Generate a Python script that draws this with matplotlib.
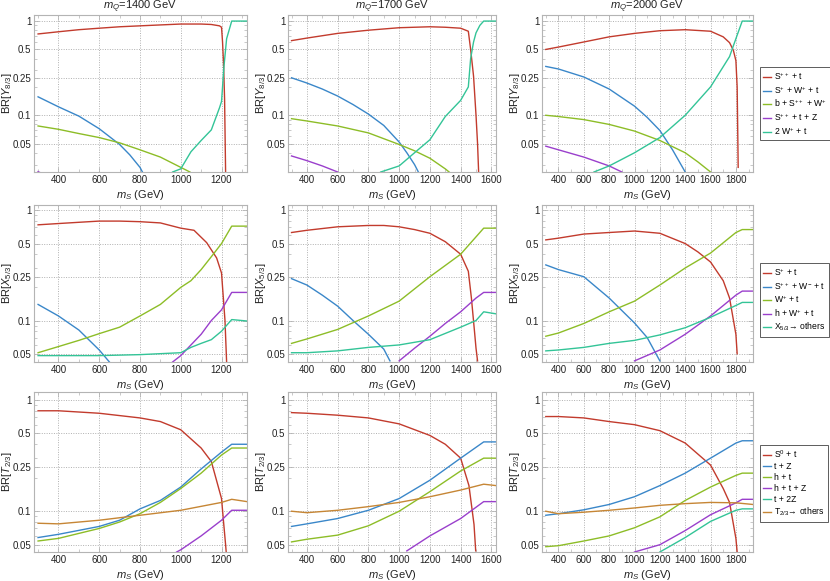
import matplotlib
matplotlib.use("Agg")
import matplotlib.pyplot as plt
from matplotlib.ticker import FixedLocator, NullFormatter, LogLocator, MultipleLocator
from matplotlib.lines import Line2D

plt.rcParams['font.family'] = ['Liberation Sans', 'DejaVu Sans']
plt.rcParams['mathtext.fontset'] = 'custom'
plt.rcParams['mathtext.rm'] = 'Liberation Sans'
plt.rcParams['mathtext.it'] = 'Liberation Sans:italic'
plt.rcParams['mathtext.bf'] = 'Liberation Sans:bold'

# colours used for the decay channels (legend order)
RED, BLUE, GREEN, PURPLE, TEAL, ORANGE = ('#c23b2d', '#3a87c9', '#8dbd27',
                                         '#9a3fcc', '#33c497', '#c68635')

mq_values = [1400, 1700, 2000]
xlims = [(280, 1325), (277, 1630), (270, 1935)]
xticks = [[400, 600, 800, 1000, 1200],
          [400, 600, 800, 1000, 1200, 1400, 1600],
          [400, 600, 800, 1000, 1200, 1400, 1600, 1800]]
yticks = [0.05, 0.1, 0.25, 0.5, 1]
ytick_labels = ['0.05', '0.1', '0.25', '0.5', '1']

# ---- Y_{8/3}, mQ = 1400
y1400_red_x = [300, 400, 500, 600, 700, 800, 900, 1000, 1100, 1150, 1190, 1200, 1205, 1210, 1215, 1220]
y1400_red = [0.73, 0.77, 0.81, 0.84, 0.87, 0.89, 0.91, 0.93, 0.93, 0.92, 0.89, 0.86, 0.6, 0.35, 0.15, 0.025]
y1400_blue_x = [300, 400, 500, 600, 700, 750, 800, 812]
y1400_blue = [0.157, 0.123, 0.098, 0.072, 0.049, 0.038, 0.028, 0.025]
y1400_green_x = [300, 400, 500, 600, 700, 800, 900, 1000, 1045]
y1400_green = [0.077, 0.071, 0.064, 0.058, 0.051, 0.043, 0.036, 0.028, 0.025]
y1400_purple_x = [300, 400]
y1400_purple = [0.0252, 0.02]
y1400_teal_x = [960, 1000, 1050, 1100, 1150, 1190, 1200, 1212, 1225, 1250, 1325]
y1400_teal = [0.025, 0.027, 0.041, 0.054, 0.07, 0.12, 0.14, 0.33, 0.65, 1.0, 1.0]

# ---- Y_{8/3}, mQ = 1700
y1700_red_x = [300, 400, 600, 800, 1000, 1200, 1300, 1400, 1450, 1465, 1484, 1500, 1510, 1517]
y1700_red = [0.62, 0.66, 0.74, 0.80, 0.85, 0.87, 0.86, 0.84, 0.78, 0.5, 0.26, 0.1, 0.05, 0.025]
y1700_blue_x = [300, 400, 500, 600, 700, 800, 900, 1000, 1050, 1100, 1125]
y1700_blue = [0.25, 0.22, 0.19, 0.16, 0.13, 0.103, 0.078, 0.052, 0.04, 0.03, 0.025]
y1700_green_x = [300, 400, 600, 800, 1000, 1100, 1200, 1300, 1325]
y1700_green = [0.092, 0.087, 0.077, 0.065, 0.049, 0.042, 0.035, 0.027, 0.025]
y1700_purple_x = [300, 400, 500, 600]
y1700_purple = [0.037, 0.033, 0.029, 0.025]
y1700_teal_x = [880, 1000, 1100, 1200, 1300, 1400, 1450, 1465, 1484, 1500, 1525, 1550, 1630]
y1700_teal = [0.025, 0.029, 0.04, 0.055, 0.097, 0.144, 0.2, 0.4, 0.6, 0.75, 0.9, 1.0, 1.0]

# ---- Y_{8/3}, mQ = 2000
y2000_red_x = [300, 400, 600, 800, 1000, 1200, 1400, 1600, 1700, 1750, 1780, 1800, 1810, 1815, 1818]
y2000_red = [0.5, 0.53, 0.6, 0.68, 0.74, 0.79, 0.81, 0.78, 0.68, 0.59, 0.49, 0.38, 0.2, 0.06, 0.028]
y2000_blue_x = [300, 400, 600, 800, 1000, 1100, 1200, 1300, 1400]
y2000_blue = [0.33, 0.31, 0.255, 0.19, 0.125, 0.095, 0.069, 0.043, 0.025]
y2000_green_x = [300, 400, 600, 800, 1000, 1200, 1400, 1500, 1600]
y2000_green = [0.1, 0.097, 0.09, 0.08, 0.068, 0.054, 0.04, 0.032, 0.025]
y2000_purple_x = [300, 400, 600, 800, 900]
y2000_purple = [0.047, 0.043, 0.036, 0.029, 0.025]
y2000_teal_x = [680, 800, 1000, 1200, 1400, 1600, 1750, 1800, 1850, 1935]
y2000_teal = [0.025, 0.029, 0.04, 0.058, 0.1, 0.2, 0.42, 0.65, 1.0, 1.0]

# ---- X_{5/3}, mQ = 1400
x1400_red_x = [300, 400, 500, 600, 700, 800, 900, 1000, 1065, 1127, 1176, 1200, 1217, 1225]
x1400_red = [0.74, 0.76, 0.78, 0.8, 0.8, 0.79, 0.77, 0.69, 0.66, 0.51, 0.37, 0.27, 0.1, 0.042]
x1400_blue_x = [300, 400, 500, 600, 650]
x1400_blue = [0.14, 0.11, 0.082, 0.054, 0.042]
x1400_green_x = [300, 400, 500, 600, 700, 800, 900, 1000, 1050, 1100, 1150, 1200, 1250, 1325]
x1400_green = [0.051, 0.058, 0.066, 0.076, 0.087, 0.11, 0.14, 0.2, 0.23, 0.29, 0.38, 0.5, 0.72, 0.72]
x1400_purple_x = [960, 1000, 1050, 1100, 1150, 1200, 1250, 1325]
x1400_purple = [0.042, 0.048, 0.06, 0.075, 0.1, 0.125, 0.18, 0.18]
x1400_teal_x = [300, 400, 600, 800, 1000, 1050, 1100, 1150, 1200, 1250, 1325]
x1400_teal = [0.048, 0.048, 0.048, 0.049, 0.051, 0.057, 0.062, 0.067, 0.08, 0.102, 0.099]

# ---- X_{5/3}, mQ = 1700
x1700_red_x = [300, 400, 600, 800, 900, 1000, 1100, 1200, 1300, 1400, 1450, 1470, 1490, 1500, 1510]
x1700_red = [0.63, 0.66, 0.71, 0.73, 0.73, 0.71, 0.67, 0.62, 0.52, 0.4, 0.28, 0.16, 0.08, 0.056, 0.043]
x1700_blue_x = [300, 400, 500, 600, 700, 800, 900, 940]
x1700_blue = [0.24, 0.21, 0.17, 0.135, 0.1, 0.075, 0.055, 0.043]
x1700_green_x = [300, 400, 600, 800, 1000, 1200, 1400, 1550, 1630]
x1700_green = [0.062, 0.068, 0.083, 0.11, 0.15, 0.25, 0.4, 0.69, 0.69]
x1700_purple_x = [1000, 1100, 1200, 1300, 1400, 1500, 1550, 1630]
x1700_purple = [0.043, 0.056, 0.072, 0.094, 0.12, 0.16, 0.18, 0.18]
x1700_teal_x = [300, 400, 600, 800, 1000, 1200, 1400, 1500, 1550, 1630]
x1700_teal = [0.051, 0.051, 0.053, 0.057, 0.06, 0.067, 0.087, 0.1, 0.12, 0.115]

# ---- X_{5/3}, mQ = 2000
x2000_red_x = [300, 400, 600, 800, 1000, 1200, 1400, 1500, 1600, 1700, 1750, 1800, 1810]
x2000_red = [0.54, 0.56, 0.61, 0.63, 0.65, 0.62, 0.5, 0.42, 0.34, 0.23, 0.16, 0.075, 0.05]
x2000_blue_x = [300, 400, 600, 800, 1000, 1100, 1200]
x2000_blue = [0.32, 0.29, 0.25, 0.16, 0.095, 0.07, 0.043]
x2000_green_x = [300, 400, 600, 800, 1000, 1200, 1400, 1600, 1800, 1850, 1935]
x2000_green = [0.072, 0.077, 0.094, 0.12, 0.15, 0.21, 0.3, 0.41, 0.63, 0.67, 0.67]
x2000_purple_x = [1000, 1200, 1400, 1600, 1800, 1850, 1935]
x2000_purple = [0.043, 0.054, 0.075, 0.11, 0.17, 0.185, 0.185]
x2000_teal_x = [300, 400, 600, 800, 1000, 1200, 1400, 1600, 1800, 1850, 1935]
x2000_teal = [0.053, 0.054, 0.057, 0.062, 0.066, 0.074, 0.086, 0.107, 0.137, 0.146, 0.146]

# ---- T_{2/3}, mQ = 1400
t1400_red_x = [300, 400, 600, 800, 900, 1000, 1100, 1150, 1200, 1210, 1220, 1223]
t1400_red = [0.8, 0.8, 0.76, 0.69, 0.64, 0.54, 0.37, 0.28, 0.13, 0.08, 0.05, 0.043]
t1400_blue_x = [300, 400, 600, 700, 800, 900, 1000, 1100, 1200, 1250, 1325]
t1400_blue = [0.058, 0.062, 0.073, 0.083, 0.105, 0.125, 0.165, 0.24, 0.34, 0.4, 0.4]
t1400_green_x = [300, 400, 600, 700, 800, 900, 1000, 1100, 1200, 1250, 1325]
t1400_green = [0.054, 0.057, 0.07, 0.08, 0.095, 0.12, 0.16, 0.22, 0.32, 0.37, 0.37]
t1400_purple_x = [980, 1000, 1100, 1200, 1250, 1325]
t1400_purple = [0.043, 0.045, 0.06, 0.083, 0.102, 0.102]
t1400_orange_x = [300, 400, 600, 800, 1000, 1200, 1250, 1325]
t1400_orange = [0.078, 0.077, 0.083, 0.092, 0.102, 0.12, 0.128, 0.122]

# ---- T_{2/3}, mQ = 1700
t1700_red_x = [300, 400, 600, 800, 1000, 1200, 1300, 1400, 1454, 1487, 1498]
t1700_red = [0.77, 0.76, 0.73, 0.69, 0.61, 0.48, 0.4, 0.3, 0.17, 0.076, 0.044]
t1700_blue_x = [300, 400, 600, 800, 1000, 1200, 1400, 1550, 1630]
t1700_blue = [0.073, 0.077, 0.086, 0.102, 0.13, 0.19, 0.3, 0.42, 0.42]
t1700_green_x = [300, 400, 600, 800, 1000, 1200, 1400, 1550, 1630]
t1700_green = [0.053, 0.056, 0.061, 0.074, 0.1, 0.15, 0.23, 0.3, 0.3]
t1700_purple_x = [1050, 1200, 1400, 1550, 1630]
t1700_purple = [0.044, 0.06, 0.086, 0.122, 0.122]
t1700_orange_x = [300, 400, 600, 800, 1000, 1200, 1400, 1550, 1630]
t1700_orange = [0.1, 0.097, 0.102, 0.11, 0.12, 0.135, 0.155, 0.175, 0.17]

# ---- T_{2/3}, mQ = 2000
t2000_red_x = [300, 400, 600, 800, 1000, 1200, 1400, 1600, 1700, 1750, 1800, 1810]
t2000_red = [0.71, 0.71, 0.69, 0.64, 0.6, 0.53, 0.41, 0.26, 0.16, 0.12, 0.057, 0.043]
t2000_blue_x = [300, 400, 600, 800, 1000, 1200, 1400, 1600, 1800, 1850, 1935]
t2000_blue = [0.092, 0.095, 0.103, 0.115, 0.135, 0.17, 0.22, 0.3, 0.41, 0.43, 0.43]
t2000_green_x = [300, 400, 600, 800, 1000, 1200, 1400, 1600, 1800, 1850, 1935]
t2000_green = [0.048, 0.049, 0.054, 0.06, 0.071, 0.089, 0.125, 0.165, 0.21, 0.22, 0.22]
t2000_purple_x = [1000, 1200, 1400, 1600, 1800, 1850, 1935]
t2000_purple = [0.043, 0.05, 0.067, 0.093, 0.119, 0.128, 0.128]
t2000_teal_x = [1200, 1400, 1600, 1800, 1850, 1935]
t2000_teal = [0.043, 0.058, 0.081, 0.102, 0.105, 0.105]
t2000_orange_x = [300, 400, 600, 800, 1000, 1200, 1400, 1600, 1800, 1935]
t2000_orange = [0.1, 0.095, 0.098, 0.102, 0.107, 0.113, 0.117, 0.12, 0.119, 0.115]

rows = [
    {'ylabel': r'BR[$Y_{8/3}$]', 'ylim': (0.025, 1.16),
     'labels': [r'S$^{++}$ + t', r'S$^{+}$ + W$^{+}$ + t', r'b + S$^{++}$ + W$^{+}$',
                r'S$^{++}$ + t + Z', r'2 W$^{+}$ + t'],
     'colors': [RED, BLUE, GREEN, PURPLE, TEAL],
     'panels': [
         [(y1400_red_x, y1400_red, RED), (y1400_blue_x, y1400_blue, BLUE),
          (y1400_green_x, y1400_green, GREEN), (y1400_purple_x, y1400_purple, PURPLE),
          (y1400_teal_x, y1400_teal, TEAL)],
         [(y1700_red_x, y1700_red, RED), (y1700_blue_x, y1700_blue, BLUE),
          (y1700_green_x, y1700_green, GREEN), (y1700_purple_x, y1700_purple, PURPLE),
          (y1700_teal_x, y1700_teal, TEAL)],
         [(y2000_red_x, y2000_red, RED), (y2000_blue_x, y2000_blue, BLUE),
          (y2000_green_x, y2000_green, GREEN), (y2000_purple_x, y2000_purple, PURPLE),
          (y2000_teal_x, y2000_teal, TEAL)]]},
    {'ylabel': r'BR[$X_{5/3}$]', 'ylim': (0.042, 1.12),
     'labels': [r'S$^{+}$ + t', r'S$^{++}$ + W$^{-}$ + t', r'W$^{+}$ + t',
                r'h + W$^{+}$ + t', r'X$_{5/3}$→ others'],
     'colors': [RED, BLUE, GREEN, PURPLE, TEAL],
     'panels': [
         [(x1400_red_x, x1400_red, RED), (x1400_blue_x, x1400_blue, BLUE),
          (x1400_green_x, x1400_green, GREEN), (x1400_purple_x, x1400_purple, PURPLE),
          (x1400_teal_x, x1400_teal, TEAL)],
         [(x1700_red_x, x1700_red, RED), (x1700_blue_x, x1700_blue, BLUE),
          (x1700_green_x, x1700_green, GREEN), (x1700_purple_x, x1700_purple, PURPLE),
          (x1700_teal_x, x1700_teal, TEAL)],
         [(x2000_red_x, x2000_red, RED), (x2000_blue_x, x2000_blue, BLUE),
          (x2000_green_x, x2000_green, GREEN), (x2000_purple_x, x2000_purple, PURPLE),
          (x2000_teal_x, x2000_teal, TEAL)]]},
    {'ylabel': r'BR[$T_{2/3}$]', 'ylim': (0.043, 1.18),
     'labels': [r'S$^{0}$ + t', 't + Z', 'h + t', 'h + t + Z', 't + 2Z',
                r'T$_{2/3}$→ others'],
     'colors': [RED, BLUE, GREEN, PURPLE, TEAL, ORANGE],
     'panels': [
         [(t1400_red_x, t1400_red, RED), (t1400_blue_x, t1400_blue, BLUE),
          (t1400_green_x, t1400_green, GREEN), (t1400_purple_x, t1400_purple, PURPLE),
          (t1400_orange_x, t1400_orange, ORANGE)],
         [(t1700_red_x, t1700_red, RED), (t1700_blue_x, t1700_blue, BLUE),
          (t1700_green_x, t1700_green, GREEN), (t1700_purple_x, t1700_purple, PURPLE),
          (t1700_orange_x, t1700_orange, ORANGE)],
         [(t2000_red_x, t2000_red, RED), (t2000_blue_x, t2000_blue, BLUE),
          (t2000_green_x, t2000_green, GREEN), (t2000_purple_x, t2000_purple, PURPLE),
          (t2000_teal_x, t2000_teal, TEAL), (t2000_orange_x, t2000_orange, ORANGE)]]},
]

W, H = 830, 581
col_px = [(34, 247), (288, 496), (542, 753)]
row_px = [(15, 172), (205, 362), (392, 552)]
legend_top = [67, 263, 445]

FRAME = '#b4b4b4'
TEXT = '#222222'

fig = plt.figure(figsize=(W / 100, H / 100), dpi=100)

for r, row in enumerate(rows):
    top, bot = row_px[r]
    for c in range(3):
        left, right = col_px[c]
        ax = fig.add_axes([left / W, 1 - bot / H, (right - left) / W, (bot - top) / H])
        for xs, ys, col in row['panels'][c]:
            ax.plot(xs, ys, color=col, lw=1.0, solid_joinstyle='round')
        ax.set_yscale('log')
        ax.set_xlim(*xlims[c])
        ax.set_ylim(*row['ylim'])
        ax.yaxis.set_major_locator(FixedLocator(yticks))
        ax.set_yticklabels(ytick_labels)
        ax.yaxis.set_minor_locator(LogLocator(base=10, subs=[2, 3, 4, 5, 6, 7, 8, 9]))
        ax.yaxis.set_minor_formatter(NullFormatter())
        ax.set_xticks(xticks[c])
        ax.xaxis.set_minor_locator(MultipleLocator(100))
        ax.grid(True, which='major', color='#b0b0b0', ls=(0, (1, 1.5)), lw=0.7)
        ax.tick_params(which='both', direction='in', top=True, right=True,
                       colors=FRAME, labelcolor=TEXT, labelsize=7, pad=2)
        ax.tick_params(which='major', length=3.5, width=0.6)
        ax.tick_params(which='minor', length=2, width=0.5)
        for sp in ax.spines.values():
            sp.set_color(FRAME)
            sp.set_linewidth(0.8)
        ax.set_xlabel(r'$m_S$ (GeV)', fontsize=8, color=TEXT, labelpad=2)
        ax.set_ylabel(row['ylabel'], fontsize=8, color=TEXT)
        # right edge of the rotated label sits ~20 px left of the frame
        ax.yaxis.set_label_coords(-20 / (right - left), 0.5)
        if r == 0:
            ax.set_title(r'$m_Q$=%d GeV' % mq_values[c], fontsize=8, color=TEXT, pad=2)

    handles = [Line2D([], [], color=col, lw=1.0) for col in row['colors']]
    leg = fig.legend(handles, row['labels'], loc='upper left',
                     bbox_to_anchor=(760 / W, 1 - legend_top[r] / H),
                     fontsize=6.2, frameon=True, fancybox=False, borderaxespad=0,
                     handlelength=0.9, handletextpad=0.35, labelspacing=0.22,
                     borderpad=0.4)
    leg.get_frame().set_edgecolor('#333333')
    leg.get_frame().set_linewidth(0.7)

fig.savefig('out.png', dpi=100)
